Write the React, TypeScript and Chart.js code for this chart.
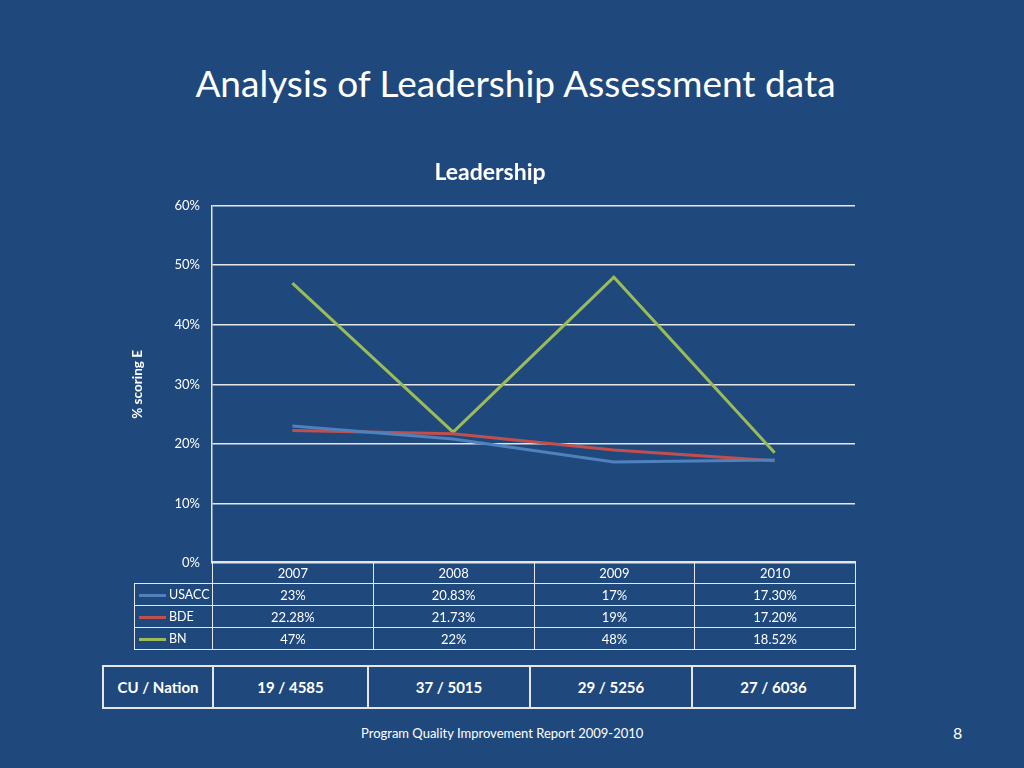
import React, { useEffect, useRef } from "react";
import { Chart, registerables } from "chart.js";

Chart.register(...registerables);

const years = ["2007", "2008", "2009", "2010"];
const usacc = [23, 20.83, 17, 17.3];
const bde = [22.28, 21.73, 19, 17.2];
const bn = [47, 22, 48, 18.52];
const usaccLabels = ["23%", "20.83%", "17%", "17.30%"];
const bdeLabels = ["22.28%", "21.73%", "19%", "17.20%"];
const bnLabels = ["47%", "22%", "48%", "18.52%"];
const cuNation = ["19 / 4585", "37 / 5015", "29 / 5256", "27 / 6036"];

const BG = "#1F497D";
const FG = "#FFFFFF";
const GRID = "#E6E6E6";
const FONT = "Lato, 'Open Sans', sans-serif";

const series = [
  { name: "USACC", values: usacc, labels: usaccLabels, color: "#4F81BD" },
  { name: "BDE", values: bde, labels: bdeLabels, color: "#C0504D" },
  { name: "BN", values: bn, labels: bnLabels, color: "#9BBB59" },
];

// layout
const CANVAS_LEFT = 125;
const CANVAS_TOP = 150;
const CANVAS_W = 730;
const CANVAS_H = 433;
const PLOT_LEFT = 212;
const PLOT_RIGHT = 855;

export default function App() {
  const ref = useRef<HTMLCanvasElement | null>(null);

  useEffect(() => {
    if (!ref.current) return;
    const chart = new Chart(ref.current, {
      type: "line",
      data: {
        labels: years,
        datasets: series.map((s) => ({
          label: s.name,
          data: s.values,
          borderColor: s.color,
          backgroundColor: s.color,
          borderWidth: 3,
          pointRadius: 0,
          tension: 0,
        })),
      },
      options: {
        responsive: false,
        animation: false,
        layout: { padding: 0 },
        plugins: {
          legend: { display: false },
          tooltip: { enabled: false },
          title: {
            display: true,
            text: "Leadership",
            color: FG,
            font: { family: FONT, size: 23, weight: "bold" },
            padding: { top: 9, bottom: 19 },
          },
        },
        scales: {
          x: { display: false, offset: true },
          y: {
            min: 0,
            max: 60,
            afterFit: (scale: any) => {
              scale.width = PLOT_LEFT - CANVAS_LEFT;
            },
            ticks: {
              stepSize: 10,
              color: FG,
              padding: 12,
              font: { family: FONT, size: 13 },
              callback: (v: any) => v + "%",
            },
            grid: { color: GRID, lineWidth: 1.5, drawTicks: false },
            border: { display: true, color: GRID, width: 1.5 },
            title: {
              display: true,
              text: "% scoring E",
              color: FG,
              font: { family: FONT, size: 13.5, weight: "bold" },
              padding: { top: 5, bottom: 0 },
            },
          },
        },
      },
    });
    return () => chart.destroy();
  }, []);

  const colW = (PLOT_RIGHT - PLOT_LEFT) / years.length;
  const legendW = PLOT_LEFT - 134;
  const cell: React.CSSProperties = {
    border: `1.5px solid ${GRID}`,
    textAlign: "center",
    padding: 0,
    fontSize: 13,
    color: FG,
  };

  return (
    <div
      style={{
        position: "fixed",
        left: 0,
        top: 0,
        width: 1024,
        height: 768,
        background: BG,
        fontFamily: FONT,
        color: FG,
        overflow: "hidden",
      }}
    >
      <div
        style={{
          position: "absolute",
          left: 0,
          width: 1031,
          top: 60,
          textAlign: "center",
          fontSize: 37,
          lineHeight: "46px",
        }}
      >
        Analysis of Leadership Assessment data
      </div>

      <canvas
        ref={ref}
        width={CANVAS_W}
        height={CANVAS_H}
        style={{ position: "absolute", left: CANVAS_LEFT, top: CANVAS_TOP, width: CANVAS_W, height: CANVAS_H }}
      />

      <table
        style={{
          position: "absolute",
          left: 134,
          top: 561,
          borderCollapse: "collapse",
          tableLayout: "fixed",
          width: legendW + colW * years.length,
        }}
      >
        <colgroup>
          <col style={{ width: legendW }} />
          {years.map((y) => (
            <col key={y} style={{ width: colW }} />
          ))}
        </colgroup>
        <tbody>
          <tr style={{ height: 22 }}>
            <td style={{ padding: 0, border: "none" }} />
            {years.map((y) => (
              <td key={y} style={cell}>
                {y}
              </td>
            ))}
          </tr>
          {series.map((s) => (
            <tr key={s.name} style={{ height: 22 }}>
              <td style={{ ...cell, textAlign: "left", fontSize: 12.5, whiteSpace: "nowrap" }}>
                <span
                  style={{
                    display: "inline-block",
                    width: 27,
                    height: 3,
                    background: s.color,
                    verticalAlign: "middle",
                    marginLeft: 4,
                    marginRight: 3,
                  }}
                />
                <span style={{ verticalAlign: "middle" }}>{s.name}</span>
              </td>
              {s.labels.map((l, i) => (
                <td key={i} style={cell}>
                  {l}
                </td>
              ))}
            </tr>
          ))}
        </tbody>
      </table>

      <table
        style={{
          position: "absolute",
          left: 102,
          top: 665,
          borderCollapse: "collapse",
          tableLayout: "fixed",
          width: 752,
        }}
      >
        <colgroup>
          <col style={{ width: 110 }} />
          <col style={{ width: 155 }} />
          <col style={{ width: 162 }} />
          <col style={{ width: 162 }} />
          <col style={{ width: 163 }} />
        </colgroup>
        <tbody>
          <tr style={{ height: 42 }}>
            <td style={{ ...cell, border: `2px solid ${GRID}`, fontSize: 15, fontWeight: "bold" }}>CU / Nation</td>
            {cuNation.map((c, i) => (
              <td key={i} style={{ ...cell, border: `2px solid ${GRID}`, fontSize: 15, fontWeight: "bold" }}>
                {c}
              </td>
            ))}
          </tr>
        </tbody>
      </table>

      <div style={{ position: "absolute", left: 361, top: 724, fontSize: 13, lineHeight: "18px" }}>
        Program Quality Improvement Report 2009-2010
      </div>
      <div style={{ position: "absolute", left: 953, top: 723, fontSize: 16, lineHeight: "20px" }}>8</div>
    </div>
  );
}
